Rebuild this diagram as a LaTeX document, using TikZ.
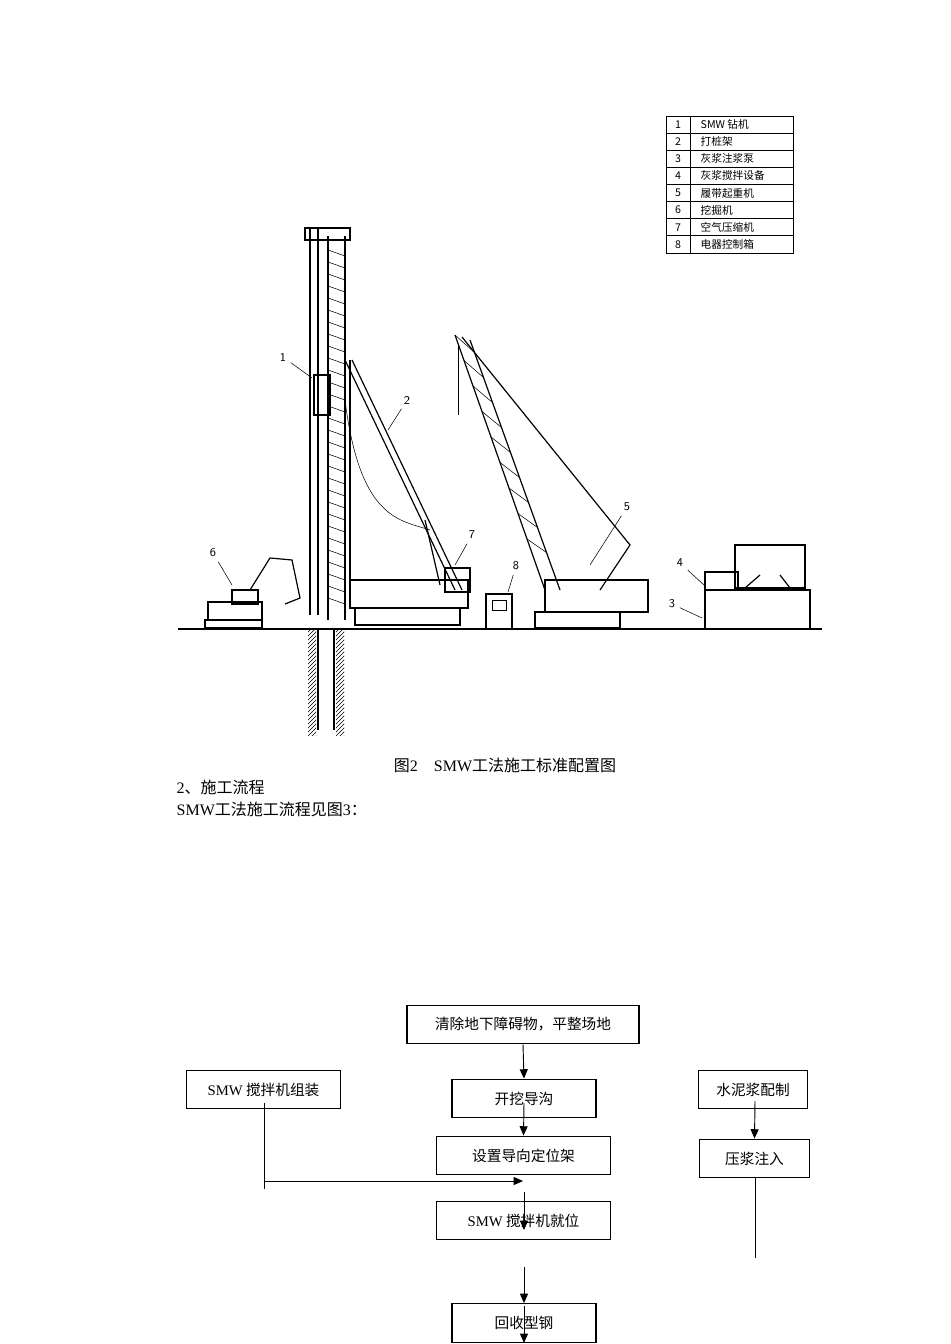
\documentclass[tikz,border=0pt]{standalone}
\usepackage{fontspec}
\setmainfont{Liberation Serif}
\newfontfamily\cjk{Noto Sans CJK SC}
\newfontfamily\lat{Liberation Serif}
\usetikzlibrary{arrows.meta,patterns,calc}
\begin{document}
\begin{tikzpicture}[x=0.75pt,y=-0.75pt,
  fbox/.style={draw,line width=0.9pt,minimum height=29pt,inner sep=0pt,font=\cjk\fontsize{11}{13}\selectfont},
  arr/.style={-{Triangle[length=7pt,width=6pt]},line width=0.7pt},
  ln/.style={line width=0.7pt},
  mech/.style={line width=0.9pt},
  lbl/.style={font=\sffamily\small}]
\useasboundingbox (0,0) rectangle (950,1344);
% ---------- equipment drawing ----------
\draw[line width=1.2pt] (178,629) -- (822,629);
\draw[mech] (318,629) -- (318,730) (334,629) -- (334,730);
\fill[pattern=north east lines] (308,629) rectangle (316,735);
\fill[pattern=north east lines] (336,629) rectangle (344,735);
\draw[mech] (310,228) -- (310,615) (318,228) -- (318,615);
\draw[mech] (328,236) -- (328,620) (345,236) -- (345,620);
\draw[mech] (305,228) -- (350,228) -- (350,240) -- (305,240) -- cycle;
\foreach \y in {250,262,...,600} \draw (328,\y) -- (345,\y+6);
\draw[mech] (314,375) rectangle (330,415);
\draw[mech] (345,360) -- (455,590) (352,360) -- (462,590);
\draw[mech] (350,360) -- (350,592);
\draw (345,400) .. controls (360,520) and (400,520) .. (430,530);
\draw[mech] (350,580) rectangle (468,608);
\draw[mech] (355,608) rectangle (460,625);
\draw[mech] (425,520) -- (440,585);
\draw[mech] (445,568) rectangle (470,592);
\draw[mech] (486,594) rectangle (512,629);
\draw (492,600) rectangle (506,610);
\draw[mech] (455,335) -- (545,590) (470,340) -- (560,590);
\foreach \t in {0,0.1,...,0.9} \draw ($(455,335)!\t!(545,590)$) -- ($(470,340)!\t+0.05!(560,590)$);
\draw[mech] (462,337) -- (630,545) -- (600,590);
\draw (458,345) -- (458,415);
\draw[mech] (545,580) rectangle (648,612);
\draw[mech] (535,612) rectangle (620,628);
\draw[mech] (208,602) rectangle (262,620);
\draw[mech] (205,620) rectangle (262,628);
\draw[mech] (232,590) rectangle (258,604);
\draw[mech] (250,590) -- (270,558) -- (292,560) -- (300,598) -- (285,604);
\draw[mech] (705,572) rectangle (738,590);
\draw[mech] (735,545) rectangle (805,588);
\draw[mech] (705,590) rectangle (810,629);
\draw[mech] (745,588) -- (760,575) (790,588) -- (780,575);
\foreach \n/\x/\y/\ex/\ey in {1/283/357/312/378, 2/407/400/388/430, 5/627/507/590/565, 6/213/553/232/585, 7/472/535/455/565, 8/516/566/508/592, 4/680/563/704/585, 3/672/604/702/618}
  {\node[lbl] (l\n) at (\x,\y) {\n}; \draw (l\n) -- (\ex,\ey);}
\begin{scope}[font=\cjk\fontsize{8}{9}\selectfont]
\draw (666,116) rectangle (793,253);
\draw (690,116) -- (690,253);
\foreach \i/\t in {1/SMW 钻机,2/打桩架,3/灰浆注浆泵,4/灰浆搅拌设备,5/履带起重机,6/挖掘机,7/空气压缩机,8/电器控制箱}{
  \node at (678,116+17.1*\i-8.5) {\i};
  \node[anchor=west] at (696,116+17.1*\i-8.5) {\t};
  \draw (666,116+17.1*\i) -- (793,116+17.1*\i);}
\end{scope}
% ---------- captions ----------
\node[font=\cjk\fontsize{12}{14}\selectfont] (cap) at (505,765) {图{\lat 2}\quad {\lat SMW}工法施工标准配置图};
\node[font=\cjk\fontsize{12}{14}\selectfont,anchor=west] (t1) at (172,787) {{\lat 2}、施工流程};
\node[font=\cjk\fontsize{12}{14}\selectfont,anchor=west] (t2) at (172,809) {{\lat SMW}工法施工流程见图{\lat 3}：};
% ---------- flowchart ----------
\node[fbox,minimum width=174pt] (A) at (523,1024.5) {清除地下障碍物，平整场地};
\node[fbox,minimum width=116pt] (B) at (263.5,1089.5) {{\lat SMW} 搅拌机组装};
\node[fbox,minimum width=108pt] (C) at (524,1098.5) {开挖导沟};
\node[fbox,minimum width=130pt] (D) at (523.5,1155.5) {设置导向定位架};
\node[fbox,minimum width=130pt] (E) at (523.5,1220.5) {{\lat SMW} 搅拌机就位};
\node[fbox,minimum width=108pt] (F) at (524,1323) {回收型钢};
\node[fbox,minimum width=82pt] (G) at (753,1089.5) {水泥浆配制};
\node[fbox,minimum width=83pt] (H) at (754.5,1158.5) {压浆注入};
\coordinate (m) at (523,1181);
\draw[arr] (A.south) -- (C.north);
\draw[arr] (524,1103) -- (D.north);
\draw[ln] (264,1103) -- (264,1189);
\draw[arr] (264,1181) -- (m);
\draw[arr] (524,1192) -- (524,1230);
\draw[arr] (524,1267) -- (F.north);
\draw[arr] (524,1306) -- (F.south);
\draw[arr] (755,1101) -- (H.north);
\draw[ln] (755,1177) -- (755,1258);
\end{tikzpicture}
\end{document}
